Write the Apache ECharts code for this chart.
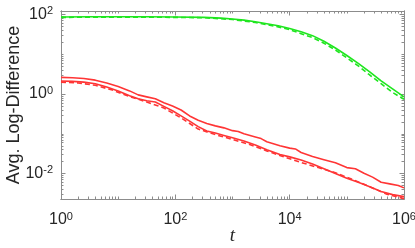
<!DOCTYPE html>
<html><head><meta charset="utf-8">
<script src="https://cdn.jsdelivr.net/npm/echarts@6/dist/echarts.min.js"></script>
<style>html,body{margin:0;padding:0;background:#fff}#c{width:415px;height:248px}</style>
</head><body><div id="c"></div>
<script>
// values are log10(t), log10(Avg. Log-Difference)
const greenSolid = [[0,1.94],[0.5,1.945],[1,1.945],[1.5,1.945],[2,1.94],[2.5,1.93],[2.8,1.91],[3.0,1.89],[3.2,1.86],[3.4,1.82],[3.6,1.77],[3.8,1.72],[4.0,1.65],[4.2,1.57],[4.4,1.47],[4.6,1.33],[4.8,1.16],[5.0,0.97],[5.2,0.77],[5.4,0.56],[5.6,0.33],[5.8,0.13],[6.0,-0.07]];
const greenDashed = [[0,1.93],[1,1.935],[2,1.93],[2.5,1.92],[3.0,1.875],[3.4,1.80],[3.8,1.69],[4.0,1.62],[4.2,1.52],[4.4,1.42],[4.6,1.28],[4.8,1.11],[5.0,0.91],[5.2,0.71],[5.4,0.48],[5.6,0.26],[5.8,0.04],[6.0,-0.13]];
const redUpper = [[0,0.42],[0.2,0.41],[0.4,0.39],[0.6,0.35],[0.8,0.28],[1.0,0.19],[1.2,0.08],[1.35,-0.02],[1.5,-0.07],[1.65,-0.12],[1.8,-0.22],[1.95,-0.30],[2.1,-0.40],[2.25,-0.55],[2.4,-0.66],[2.55,-0.74],[2.7,-0.80],[2.85,-0.85],[3.0,-0.92],[3.1,-0.94],[3.2,-1.00],[3.4,-1.08],[3.5,-1.12],[3.6,-1.20],[3.83,-1.30],[4.0,-1.36],[4.1,-1.38],[4.2,-1.47],[4.4,-1.57],[4.6,-1.65],[4.8,-1.73],[5.0,-1.85],[5.15,-1.88],[5.3,-1.99],[5.45,-2.09],[5.6,-2.22],[5.75,-2.26],[5.9,-2.30],[6.0,-2.36]];
const redMiddle = [[0,0.33],[0.2,0.32],[0.4,0.30],[0.6,0.26],[0.8,0.18],[1.0,0.08],[1.2,-0.04],[1.35,-0.12],[1.5,-0.17],[1.65,-0.20],[1.8,-0.31],[1.95,-0.42],[2.1,-0.55],[2.25,-0.68],[2.4,-0.82],[2.55,-0.93],[2.7,-0.98],[2.85,-1.04],[3.0,-1.10],[3.2,-1.18],[3.4,-1.28],[3.6,-1.40],[3.83,-1.52],[4.0,-1.58],[4.2,-1.66],[4.4,-1.76],[4.6,-1.88],[4.8,-2.00],[5.0,-2.12],[5.2,-2.22],[5.4,-2.33],[5.6,-2.45],[5.8,-2.53],[6.0,-2.58]];
const redDashed = [[0,0.30],[0.3,0.28],[0.6,0.22],[0.9,0.10],[1.2,-0.06],[1.5,-0.20],[1.8,-0.35],[2.1,-0.60],[2.4,-0.88],[2.7,-1.02],[3.0,-1.14],[3.3,-1.27],[3.6,-1.43],[3.9,-1.58],[4.2,-1.72],[4.5,-1.85],[4.8,-1.98],[5.1,-2.15],[5.4,-2.33],[5.7,-2.52],[6.0,-2.63]];
const xTickExps = [0,2,4,6];
const yTickExps = [-2,0,2];
const xMin = 0, xMax = 6, yMin = -2.64, yMax = 2.09;

function minorTicks(lo, hi){
  const out=[];
  for(let n=Math.floor(lo)-1;n<=Math.ceil(hi);n++){
    for(let k=1;k<=9;k++){
      const v=n+Math.log10(k);
      if(v>lo&&v<hi&&!(k===1&&n%2===0)) out.push(v);
    }
  }
  return out;
}
const xMinor = minorTicks(xMin,xMax), yMinor = minorTicks(yMin,yMax);
const axisCol = '#8c8c8c';
const fmt = v => '{b|10}{s|' + Math.round(v) + '}';
const rich = {b:{fontSize:16,fontFamily:'Liberation Sans',color:'#262626',lineHeight:18},
              s:{fontSize:11,fontFamily:'Liberation Sans',color:'#262626',verticalAlign:'top',lineHeight:12,padding:[0,0,0,0]}};

function mkAxis(kind, pos, major, labels){
  const isX = kind==='x';
  const base = {type:'value', min:isX?xMin:yMin, max:isX?xMax:yMax, position:pos,
    splitLine:{show:false},
    axisLine:{show:true,onZero:false,lineStyle:{color:axisCol,width:1}},
    axisTick:{show:true,inside:true,length:major?4.5:2.5,lineStyle:{color:axisCol,width:1},
      customValues: major ? (isX?xTickExps:yTickExps) : (isX?xMinor:yMinor)},
    axisLabel:{show:false}};
  if(labels){
    base.axisLabel = {show:true, customValues:isX?xTickExps:yTickExps, formatter:fmt, rich:rich,
      margin:isX?12:8, showMinLabel:true, showMaxLabel:true};
  }
  return base;
}
const xAxes = [mkAxis('x','bottom',true,true), mkAxis('x','bottom',false,false), mkAxis('x','top',true,false), mkAxis('x','top',false,false)];
const yAxes = [mkAxis('y','left',true,true), mkAxis('y','left',false,false), mkAxis('y','right',true,false), mkAxis('y','right',false,false)];
xAxes[0].name='t'; xAxes[0].nameLocation='middle'; xAxes[0].nameGap=27; xAxes[0].nameMoveOverlap=false;
xAxes[0].nameTextStyle={fontFamily:'Liberation Serif',fontStyle:'italic',fontSize:19,color:'#262626'};
yAxes[0].name='Avg. Log-Difference'; yAxes[0].nameLocation='middle'; yAxes[0].nameGap=38; yAxes[0].nameMoveOverlap=false;
yAxes[0].nameTextStyle={fontFamily:'Liberation Sans',fontSize:18,color:'#262626'};

function line(data,color,dash){
  return {type:'line',data:data,showSymbol:false,symbol:'none',xAxisIndex:0,yAxisIndex:0,
    lineStyle:{color:color,width:1.6,type:dash||'solid'},z:3,animation:false};
}
const green='#1fe61f', red='#ff3535';
const chart = echarts.init(document.getElementById('c'),null,{renderer:'canvas'});
chart.setOption({
  animation:false,
  grid:{left:61,right:11,top:11,bottom:49,containLabel:false,outerBoundsMode:'none'},
  xAxis:xAxes, yAxis:yAxes,
  series:[line(greenSolid,green),line(greenDashed,green,[5,3]),
          line(redUpper,red),line(redMiddle,red),line(redDashed,red,[5,3])]
});
</script></body></html>
